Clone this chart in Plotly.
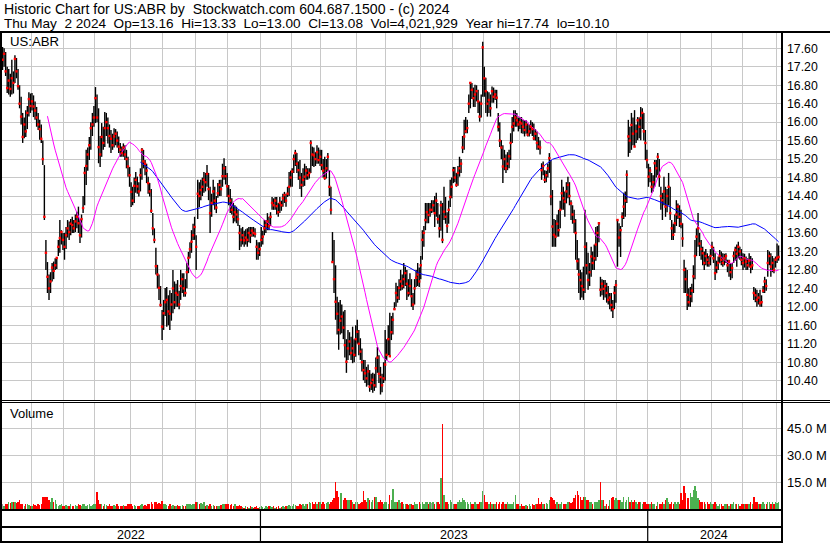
import numpy as np
import pandas as pd
import plotly.graph_objects as go

# ---------------- data ----------------
symbol = "US:ABR"
header_line1 = "Historic Chart for US:ABR by  Stockwatch.com 604.687.1500 - (c) 2024"
header_line2 = "Thu May  2 2024  Op=13.16  Hi=13.33  Lo=13.00  Cl=13.08  Vol=4,021,929  Year hi=17.74  lo=10.10"

first_day = "2022-05-04"
last_day = "2024-05-02"
market_holidays = ["2022-05-30", "2022-06-20", "2022-07-04", "2022-09-05", "2022-11-24", "2022-12-26",
                   "2023-01-02", "2023-01-16", "2023-02-20", "2023-04-07", "2023-05-29", "2023-06-19",
                   "2023-07-04", "2023-09-04", "2023-11-23", "2023-12-25", "2024-01-01", "2024-01-15",
                   "2024-02-19", "2024-03-29"]

closes = [
    17.35, 17.48, 17.10, 16.74, 16.90, 16.72, 16.95, 16.85, 17.37, 17.10, 16.78, 16.40, 16.12, 15.68, 15.95, 15.80, 16.20, 16.50, 16.35,
    16.45, 16.34, 16.25, 16.10, 15.95, 15.85, 15.64, 15.20, 13.95, 13.17, 12.65, 12.40, 12.55, 12.85, 12.78, 12.90, 13.06, 13.30, 13.49, 13.62, 13.45,
    13.30, 13.55, 13.70, 13.62, 13.80, 13.77, 13.70, 13.85, 13.95, 13.81, 13.55, 13.90, 14.14, 14.90, 15.05, 15.30, 15.50, 15.87, 15.95, 16.10,
    16.52, 16.10, 15.46, 15.30, 15.68, 15.55, 15.87, 16.00, 15.87, 15.70, 15.64, 15.50, 15.69, 15.75, 15.60, 15.47, 15.40, 15.33, 15.45, 15.30, 15.20, 15.04, 14.85,
    14.49, 14.30, 14.62, 14.75, 14.61, 14.50, 14.85, 15.40, 15.15, 15.10, 14.95, 14.68, 14.50, 14.08, 13.70, 13.45, 12.88, 12.70, 12.41, 12.04, 11.57,
    11.86, 12.10, 12.15, 11.90, 11.85, 12.05, 12.40, 12.10, 12.30, 12.26, 12.05, 12.45, 12.60, 12.40, 12.30, 12.75, 13.06, 13.25, 13.41, 13.55, 13.73,
    13.30, 14.45, 14.40, 14.53, 14.60, 14.75, 14.70, 14.88, 14.55, 14.03, 14.25, 14.50, 14.30, 14.15, 14.46, 14.64, 14.55, 14.83, 15.00, 14.83, 14.61,
    14.40, 14.30, 14.10, 13.95, 14.05, 14.00, 13.90, 13.60, 13.45, 13.55, 13.44, 13.50, 13.45, 13.60, 13.55, 13.65, 13.60, 13.58, 13.30, 13.17, 13.25,
    13.45, 13.52, 13.70, 13.77, 13.85, 13.75, 13.95, 14.25, 14.20, 14.30, 14.18, 14.05, 14.25, 14.20, 14.35, 14.42, 14.30, 14.45, 14.60, 14.80,
    14.93, 15.20, 15.33, 15.10, 14.96, 14.80, 14.64, 14.75, 14.82, 14.95, 14.85, 14.90, 15.55, 15.30, 15.28, 15.20, 15.35, 15.18, 15.25,
    15.07, 14.95, 14.79, 15.00, 15.25, 14.60, 14.10, 12.97, 12.60, 12.11, 11.85, 11.50, 11.70, 11.79, 11.55, 11.17, 10.81, 11.10, 11.25, 11.00, 11.10, 10.96, 11.30,
    11.46, 11.20, 11.03, 10.80, 10.63, 10.56, 10.45, 10.60, 10.27, 10.35, 10.42, 10.30, 10.67, 10.90, 10.55, 10.48, 10.30, 10.45, 10.75,
    10.96, 11.30, 10.93, 11.45, 11.72, 11.95, 12.30, 12.20, 12.41, 12.55, 12.45, 12.60, 12.73, 12.50, 12.30, 12.45, 12.23, 12.05, 12.40, 12.63, 12.70, 12.55,
    12.90, 13.45, 13.60, 13.88, 14.05, 13.99, 14.10, 14.10, 14.20, 14.03, 14.30, 13.90, 13.70, 14.20, 13.45, 14.06, 13.95, 13.75, 14.10, 14.38, 14.60,
    14.96, 14.80, 14.64, 14.90, 15.00, 15.10, 15.45, 15.69, 15.80, 15.87, 16.40, 16.85, 16.70, 16.52, 16.60, 16.67, 16.45, 16.12, 16.40, 17.62,
    16.95, 16.67, 16.40, 16.48, 16.30, 16.67, 16.55, 16.60, 16.53, 15.90, 15.60, 15.45, 15.04, 15.20, 15.00, 15.10, 15.26, 15.55, 15.90, 15.97, 16.10, 16.04, 15.95,
    16.00, 15.97, 15.90, 15.83, 15.95, 15.73, 15.80, 15.90, 15.85, 15.65, 15.75, 15.55, 15.47, 15.45, 14.96, 15.05, 14.75, 14.85, 15.00, 15.22,
    14.39, 13.74, 13.56, 13.52, 13.80, 13.66, 14.10, 14.46, 14.35, 14.28, 14.50, 14.64, 14.40, 14.24, 14.00, 13.85, 13.60, 12.99, 12.70, 12.58, 12.45, 12.37,
    13.30, 12.90, 12.58, 12.75, 13.09, 12.95, 13.05, 13.35, 13.60, 13.81, 12.37, 12.50, 12.39, 12.45, 12.30, 12.15, 12.20, 12.04, 11.95, 12.30, 12.47,
    13.88, 13.50, 13.66, 13.95, 14.17, 14.30, 14.86, 15.69, 15.60, 15.94, 15.75, 15.47, 15.80, 16.04, 15.90, 16.09, 16.20, 15.80, 15.55, 15.18,
    14.82, 14.95, 14.60, 14.70, 15.11, 15.00, 15.25, 14.82, 14.40, 14.31, 14.50, 14.17, 14.40, 14.60, 14.03, 13.70, 13.56, 13.81, 14.00, 14.17, 13.95,
    13.80, 13.48, 12.80, 12.60, 12.26, 12.10, 12.23, 12.35, 12.66, 13.10, 13.52, 13.70, 13.37, 13.25, 13.16, 12.95, 13.10, 13.02, 12.95, 13.10,
    13.30, 13.05, 12.73, 12.85, 12.95, 13.10, 13.02, 12.95, 13.05, 13.10, 12.90, 12.98, 12.75, 12.84, 13.10, 13.23, 13.15, 13.30, 13.20, 13.02,
    12.95, 13.05, 12.98, 12.90, 13.00, 12.87, 12.90, 12.30, 12.25, 12.15, 12.20, 12.08, 12.10, 12.35, 12.55, 12.45, 12.95, 13.10, 12.87, 12.95, 12.80, 13.02,
    13.06, 13.08,
]

highs = [
    17.63, 17.60, 17.52, 17.20, 17.15, 17.05, 17.35, 17.10, 17.45, 17.39, 17.15, 16.80, 16.55, 16.20, 16.10, 16.26, 16.35, 16.65, 16.62,
    16.63, 16.58, 16.45, 16.33, 16.20, 16.05, 15.95, 15.60, 15.07, 13.45, 12.97, 12.70, 12.75, 12.95, 12.98, 13.05, 13.08, 13.45, 13.88, 13.66, 13.60,
    13.60, 13.73, 13.88, 13.85, 13.90, 13.95, 13.88, 14.00, 14.06, 14.17, 13.90, 14.00, 14.40, 15.03, 15.40, 15.45, 15.68, 16.00, 16.20, 16.35,
    16.76, 16.60, 16.30, 15.70, 15.98, 15.90, 16.22, 16.20, 16.10, 15.95, 15.83, 15.75, 15.87, 15.85, 15.80, 15.69, 15.55, 15.47, 15.54, 15.50, 15.40, 15.25, 15.03,
    14.70, 14.60, 14.80, 14.92, 14.82, 14.70, 15.00, 15.44, 15.40, 15.18, 15.10, 14.82, 14.68, 14.55, 14.03, 13.70, 13.28, 12.91, 12.70, 12.45, 11.93,
    12.15, 12.41, 12.43, 12.25, 12.36, 12.30, 12.80, 12.55, 12.50, 12.58, 12.35, 12.80, 12.73, 12.73, 12.60, 12.95, 13.19, 13.40, 13.66, 13.80, 13.95,
    13.55, 14.75, 14.70, 14.75, 14.80, 14.92, 14.90, 15.07, 14.90, 14.60, 14.45, 14.75, 14.60, 14.40, 14.68, 14.75, 14.75, 15.10, 15.22, 15.05, 14.90,
    14.64, 14.55, 14.35, 14.25, 14.20, 14.17, 14.10, 13.77, 13.70, 13.73, 13.65, 13.68, 13.70, 13.73, 13.73, 13.73, 13.73, 13.70, 13.45, 13.40, 13.40,
    13.73, 13.65, 13.88, 13.88, 14.03, 13.95, 14.05, 14.38, 14.35, 14.38, 14.38, 14.25, 14.38, 14.30, 14.45, 14.49, 14.45, 14.60, 14.92, 14.95,
    15.00, 15.30, 15.40, 15.33, 15.15, 15.18, 14.90, 15.00, 15.10, 15.05, 15.00, 15.00, 15.61, 15.47, 15.45, 15.35, 15.50, 15.45, 15.40,
    15.40, 15.20, 15.25, 15.20, 15.33, 14.96, 14.60, 13.62, 13.45, 12.90, 12.22, 12.10, 12.15, 12.05, 11.90, 11.93, 11.30, 11.50, 11.45, 11.35, 11.57, 11.30, 11.60,
    11.72, 11.50, 11.32, 11.10, 10.85, 10.85, 10.70, 10.75, 10.63, 10.55, 10.57, 10.55, 10.90, 11.13, 10.95, 10.70, 10.55, 10.80, 11.50,
    11.30, 11.60, 11.87, 11.80, 11.87, 12.10, 12.52, 12.45, 12.60, 12.80, 12.70, 12.95, 12.87, 12.80, 12.60, 12.73, 12.60, 12.30, 12.60, 12.80, 12.95, 12.85,
    13.10, 13.66, 13.75, 14.25, 14.25, 14.25, 14.25, 14.31, 14.31, 14.40, 14.47, 14.25, 14.00, 14.30, 14.25, 14.60, 14.38, 14.05, 14.30, 14.75, 14.80,
    15.03, 15.03, 14.90, 15.05, 15.25, 15.20, 15.70, 16.05, 16.11, 16.05, 16.60, 16.87, 16.85, 16.75, 16.81, 16.80, 16.70, 16.45, 16.60, 17.74,
    17.20, 16.96, 16.67, 16.65, 16.60, 16.77, 16.75, 16.70, 16.70, 16.20, 16.00, 15.61, 15.50, 15.40, 15.30, 15.35, 15.40, 15.76, 16.11, 16.26, 16.26, 16.20, 16.10,
    16.11, 16.11, 16.05, 16.04, 16.04, 15.97, 15.95, 16.04, 16.00, 15.97, 15.85, 15.80, 15.68, 15.60, 15.11, 15.15, 14.96, 14.95, 15.10, 15.33,
    15.18, 14.53, 13.90, 13.88, 14.00, 14.10, 14.30, 14.75, 14.60, 14.50, 14.70, 14.82, 14.70, 14.31, 14.20, 14.10, 13.90, 13.45, 13.05, 12.80, 12.75, 12.87,
    14.10, 13.40, 13.17, 12.95, 13.30, 13.20, 13.35, 13.73, 13.75, 13.84, 12.65, 12.60, 12.58, 12.58, 12.52, 12.45, 12.30, 12.30, 12.15, 12.45, 12.58,
    13.88, 13.81, 13.75, 14.05, 14.47, 14.50, 14.96, 16.05, 15.90, 16.20, 16.10, 16.26, 15.95, 16.11, 16.10, 16.33, 16.30, 16.20, 15.83, 15.40,
    15.10, 15.03, 14.90, 14.85, 15.18, 15.18, 15.33, 15.20, 14.60, 14.47, 14.82, 14.60, 14.55, 14.90, 14.60, 13.88, 13.80, 14.00, 14.31, 14.24, 14.20,
    14.10, 13.81, 13.02, 12.85, 12.80, 12.40, 12.43, 12.50, 12.90, 13.45, 13.70, 14.03, 13.60, 13.45, 13.30, 13.20, 13.25, 13.16, 13.10, 13.25,
    13.41, 13.30, 13.16, 13.00, 13.09, 13.23, 13.20, 13.16, 13.15, 13.16, 13.02, 13.02, 12.95, 12.95, 13.20, 13.30, 13.35, 13.41, 13.30, 13.25,
    13.16, 13.15, 13.09, 13.05, 13.16, 13.10, 13.05, 12.43, 12.40, 12.37, 12.30, 12.37, 12.25, 12.45, 12.65, 12.60, 13.23, 13.20, 13.16, 13.10, 13.05, 13.09,
    13.37, 13.33,
]

lows = [
    17.13, 17.20, 17.00, 16.63, 16.60, 16.55, 16.60, 16.62, 16.85, 16.95, 16.70, 16.30, 15.95, 15.55, 15.65, 15.68, 15.85, 16.12, 16.20,
    16.25, 16.11, 16.05, 15.90, 15.83, 15.62, 15.55, 15.07, 13.88, 12.80, 12.30, 12.15, 12.30, 12.55, 12.60, 12.80, 12.82, 13.10, 13.17, 13.35, 13.23,
    13.02, 13.25, 13.50, 13.45, 13.55, 13.60, 13.60, 13.62, 13.70, 13.60, 13.38, 13.50, 14.03, 14.20, 14.64, 14.95, 15.18, 15.40, 15.70, 15.90,
    15.98, 16.00, 15.11, 15.03, 15.25, 15.40, 15.46, 15.70, 15.54, 15.45, 15.33, 15.40, 15.45, 15.50, 15.45, 15.33, 15.25, 15.25, 15.25, 15.18, 15.00, 14.82, 14.60,
    14.16, 14.20, 14.25, 14.47, 14.45, 14.39, 14.50, 14.75, 15.00, 14.85, 14.68, 14.45, 14.39, 14.03, 13.55, 13.38, 12.70, 12.40, 12.15, 12.00, 11.28,
    11.50, 11.80, 11.57, 11.60, 11.50, 11.70, 11.86, 11.95, 12.00, 12.00, 11.95, 12.15, 12.30, 12.22, 12.22, 12.40, 12.73, 13.05, 13.17, 13.45, 13.45,
    12.80, 13.90, 14.16, 14.31, 14.40, 14.47, 14.50, 14.60, 14.31, 13.60, 13.95, 14.20, 14.10, 14.03, 14.36, 14.40, 14.40, 14.60, 14.75, 14.65, 14.38,
    14.20, 14.03, 14.00, 13.81, 13.85, 13.81, 13.75, 13.23, 13.30, 13.35, 13.30, 13.35, 13.30, 13.40, 13.38, 13.52, 13.52, 13.50, 13.02, 13.02, 13.10,
    13.30, 13.35, 13.55, 13.60, 13.66, 13.66, 13.75, 14.10, 14.10, 14.10, 14.00, 13.95, 14.03, 14.08, 14.17, 14.25, 14.17, 14.38, 14.40, 14.60,
    14.60, 14.90, 15.05, 14.90, 14.75, 14.55, 14.38, 14.60, 14.62, 14.75, 14.75, 14.78, 14.90, 15.05, 15.03, 15.05, 15.10, 15.10, 15.05,
    14.96, 14.80, 14.75, 14.78, 14.95, 14.40, 14.00, 12.95, 12.30, 11.72, 11.40, 11.07, 11.40, 11.43, 11.30, 10.90, 10.57, 10.85, 10.95, 10.85, 10.78, 10.80, 10.92,
    11.20, 10.95, 10.85, 10.60, 10.41, 10.35, 10.27, 10.30, 10.16, 10.20, 10.14, 10.18, 10.25, 10.57, 10.35, 10.10, 10.15, 10.35, 10.40,
    10.85, 10.95, 10.92, 11.28, 11.40, 11.93, 12.00, 12.09, 12.15, 12.35, 12.37, 12.40, 12.45, 12.15, 12.22, 12.25, 12.00, 11.93, 12.05, 12.43, 12.45, 12.43,
    12.60, 13.02, 13.30, 13.66, 13.81, 13.81, 13.95, 14.03, 14.05, 13.73, 13.95, 13.80, 13.50, 13.65, 13.38, 13.88, 13.80, 13.60, 13.80, 14.16, 14.35,
    14.68, 14.70, 14.60, 14.62, 14.82, 14.90, 15.33, 15.40, 15.76, 15.76, 16.20, 16.30, 16.50, 16.33, 16.33, 16.45, 16.20, 16.01, 16.10, 16.55,
    16.55, 16.20, 16.12, 16.20, 16.12, 16.42, 16.42, 16.48, 16.30, 15.80, 15.46, 15.20, 14.68, 14.96, 14.90, 14.96, 15.00, 15.18, 15.55, 15.80, 15.90, 15.90, 15.80,
    15.85, 15.76, 15.75, 15.69, 15.75, 15.69, 15.69, 15.75, 15.70, 15.61, 15.60, 15.40, 15.40, 15.30, 14.75, 14.85, 14.68, 14.70, 14.80, 14.90,
    14.20, 13.30, 13.30, 13.30, 13.52, 13.52, 13.70, 14.10, 14.10, 13.95, 14.24, 14.35, 14.20, 13.88, 13.80, 13.60, 13.02, 12.80, 12.30, 12.15, 12.20, 12.15,
    12.30, 12.70, 12.37, 12.45, 12.65, 12.80, 12.80, 13.00, 13.08, 13.40, 12.22, 12.25, 12.15, 12.20, 12.09, 12.05, 11.95, 11.90, 11.76, 11.95, 12.09,
    12.87, 13.30, 13.08, 13.73, 13.90, 13.95, 14.25, 15.25, 15.33, 15.40, 15.50, 15.47, 15.55, 15.61, 15.65, 15.61, 15.85, 15.60, 15.18, 15.00,
    14.60, 14.70, 14.47, 14.50, 14.60, 14.80, 14.85, 14.60, 14.10, 13.88, 14.20, 13.95, 14.05, 14.20, 13.88, 13.45, 13.45, 13.60, 13.75, 13.90, 13.73,
    13.70, 13.30, 12.30, 12.30, 11.93, 12.00, 12.00, 12.10, 12.30, 12.60, 13.10, 13.30, 13.10, 13.02, 12.90, 12.80, 12.90, 12.87, 12.87, 12.90,
    13.10, 12.95, 12.58, 12.73, 12.80, 12.95, 12.90, 12.87, 12.90, 12.95, 12.75, 12.65, 12.58, 12.62, 12.95, 13.00, 12.87, 13.05, 13.02, 12.90,
    12.80, 12.85, 12.80, 12.80, 12.85, 12.73, 12.80, 12.15, 12.10, 12.00, 12.05, 12.00, 12.00, 12.30, 12.30, 12.35, 12.65, 12.90, 12.65, 12.75, 12.73, 12.85,
    12.95, 13.00,
]

volumes_m = [
    2.8, 2.2, 3.3, 2.8, 3.9, 3.6, 4.2, 3.9, 4.4, 3.6, 3.9, 5.0, 3.3, 2.8, 2.2, 2.8, 3.3, 2.5, 2.2,
    2.2, 2.8, 2.5, 2.2, 2.8, 2.5, 3.3, 6.7, 7.2, 7.2, 6.9, 5.0, 4.4, 6.1, 3.9, 5.5, 2.8, 2.2, 2.5, 2.8, 2.2,
    2.2, 2.5, 1.7, 2.2, 2.8, 2.2, 1.9, 2.5, 2.2, 2.8, 2.5, 2.2, 3.3, 2.8, 2.2, 2.5, 2.8, 2.2, 2.5, 3.3,
    3.3, 9.7, 5.0, 3.3, 2.8, 2.2, 3.3, 2.5, 2.2, 2.8, 2.2, 1.9, 2.5, 2.2, 2.8, 2.2, 1.7, 2.2, 2.5, 1.9, 2.2, 2.8, 3.3,
    2.8, 2.2, 2.5, 1.9, 2.2, 1.7, 2.5, 3.3, 2.2, 2.5, 2.2, 2.8, 3.3, 3.9, 3.3, 4.4, 3.9, 2.8, 3.6, 3.3, 4.7,
    3.3, 2.8, 2.5, 2.2, 2.8, 2.2, 2.5, 1.9, 2.2, 2.5, 1.9, 2.2, 2.5, 1.9, 2.2, 2.8, 3.3, 2.8, 2.5, 2.8, 3.3,
    3.9, 3.9, 3.3, 3.6, 2.8, 3.9, 2.2, 2.5, 1.9, 2.8, 2.2, 2.5, 1.9, 2.2, 1.7, 2.2, 2.5, 2.8, 3.3, 3.3, 2.8,
    3.3, 2.5, 2.8, 2.2, 2.8, 1.9, 2.2, 2.5, 1.7, 1.4, 1.1, 1.7, 1.4, 1.1, 1.7, 1.4, 1.1, 1.4, 1.7, 1.1, 1.4,
    1.7, 1.4, 1.1, 1.7, 1.4, 1.7, 2.2, 1.4, 1.7, 1.1, 1.4, 1.7, 1.1, 1.4, 1.7, 1.4, 1.9, 2.2, 2.5, 2.2,
    2.2, 2.8, 2.5, 1.9, 2.2, 2.8, 2.5, 3.3, 2.2, 2.8, 3.3, 3.9, 3.6, 3.9, 3.3, 4.4, 3.3, 3.9, 4.2,
    3.3, 3.9, 3.3, 3.6, 3.9, 3.3, 4.4, 5.0, 6.1, 15.5, 10.5, 7.2, 8.9, 8.9, 5.5, 6.1, 5.0, 5.5, 5.5, 5.0, 3.9, 3.3, 3.9,
    3.9, 3.3, 3.6, 4.4, 10.0, 5.0, 4.4, 6.1, 5.5, 3.9, 5.0, 6.7, 7.2, 4.4, 3.9, 5.0, 4.4, 3.3, 3.9,
    3.9, 3.3, 7.8, 5.0, 11.1, 3.9, 4.4, 3.9, 5.0, 3.6, 3.9, 3.3, 2.8, 3.3, 2.5, 2.8, 3.3, 2.5, 3.9, 2.8, 3.3, 3.9,
    3.3, 4.4, 2.8, 3.9, 4.4, 3.3, 3.9, 3.6, 4.4, 3.3, 3.9, 4.4, 3.3, 17.2, 47.4, 7.8, 3.9, 4.4, 3.3, 5.0, 3.9,
    3.3, 2.8, 3.3, 3.9, 5.5, 4.4, 6.1, 5.0, 3.9, 4.4, 3.3, 3.9, 2.8, 3.3, 3.9, 2.8, 3.3, 3.9, 4.4, 10.5,
    7.8, 4.4, 3.9, 3.3, 4.4, 2.8, 3.3, 2.8, 3.9, 3.3, 3.9, 3.3, 3.9, 2.8, 3.3, 3.9, 2.8, 3.3, 2.8, 3.9, 8.0, 3.3, 2.8,
    2.2, 2.8, 2.2, 1.7, 2.5, 2.2, 3.3, 2.2, 2.8, 2.5, 3.3, 2.8, 6.1, 2.8, 3.9, 3.3, 2.8, 3.6, 3.3, 5.0,
    7.2, 6.1, 5.0, 3.3, 3.9, 2.8, 3.3, 3.9, 2.8, 3.3, 2.8, 3.9, 4.4, 3.6, 4.4, 6.1, 7.8, 10.5, 8.0, 6.7, 5.5, 6.7,
    7.2, 5.0, 5.5, 3.9, 3.9, 3.3, 4.4, 3.9, 4.4, 5.0, 15.0, 5.0, 5.0, 2.2, 2.8, 2.2, 5.5, 6.1, 6.7, 5.5, 6.1,
    5.5, 5.0, 5.3, 4.4, 6.7, 3.9, 5.5, 6.7, 4.4, 5.0, 3.9, 5.5, 4.4, 3.3, 4.4, 3.9, 3.3, 4.4, 3.9, 3.3,
    3.3, 2.8, 3.9, 2.8, 3.3, 2.2, 3.9, 3.3, 2.8, 3.9, 2.8, 5.5, 6.1, 4.4, 3.3, 3.9, 3.3, 3.9, 3.3, 3.9, 3.3,
    8.9, 5.5, 13.3, 8.9, 6.1, 6.1, 9.4, 7.2, 11.0, 13.3, 10.5, 6.1, 5.0, 4.4, 4.4, 3.9, 3.3, 3.9, 3.3, 3.9,
    2.8, 3.3, 3.9, 2.8, 2.2, 3.3, 2.8, 2.2, 2.8, 3.3, 2.8, 2.2, 3.3, 2.8, 3.9, 3.3, 2.8, 3.3, 2.2, 3.3,
    2.8, 3.3, 3.3, 2.8, 3.3, 3.9, 3.3, 6.7, 4.4, 3.9, 3.3, 2.8, 3.3, 3.9, 2.8, 3.3, 4.4, 3.9, 3.3, 3.9, 3.3, 3.9,
    3.6, 4.02,
]

price_ticks = [10.40, 10.80, 11.20, 11.60, 12.00, 12.40, 12.80, 13.20, 13.60, 14.00,
               14.40, 14.80, 15.20, 15.60, 16.00, 16.40, 16.80, 17.20, 17.60]
volume_ticks = [15.0, 30.0, 45.0]
volume_tick_labels = ["15.0 M", "30.0 M", "45.0 M"]
ma_windows = [30, 90]

# ---------------- build ----------------
n = len(closes)
dates = pd.bdate_range(first_day, last_day)
dates = dates[~dates.isin(pd.to_datetime(market_holidays))]
if len(dates) != n:
    print("WARNING: dates", len(dates), "data", n)
dates = dates[:n]
idx = np.arange(n)

W, H = 830, 543
FONT = "Liberation Sans, Arial, Helvetica, sans-serif"
GRID = "#c8c8c8"


def px(x):
    return x / W


def py(y):
    return 1 - y / H


month_bounds = [k - 0.5 for k in range(1, n) if dates[k].month != dates[k - 1].month]
year_bounds = [k - 0.5 for k in range(1, n) if dates[k].year != dates[k - 1].year]
x_range = [-0.35, n + 0.55]

# high-low bars
bx, by = [], []
for i in range(n):
    bx += [i, i, None]
    by += [lows[i], highs[i], None]

close_s = pd.Series(closes)
ma_fast = close_s.rolling(ma_windows[0]).mean()
ma_slow = close_s.rolling(ma_windows[1]).mean()

vol_colors = []
for i in range(n):
    if i == 0 or closes[i] == closes[i - 1]:
        vol_colors.append("#a0a0a0")
    elif closes[i] > closes[i - 1]:
        vol_colors.append("#4caf50")
    else:
        vol_colors.append("#ff0000")

fig = go.Figure()
fig.add_trace(go.Scatter(x=bx, y=by, mode="lines", line=dict(color="black", width=1.4),
                         hoverinfo="skip", xaxis="x", yaxis="y"))
fig.add_trace(go.Scatter(x=idx, y=ma_slow, mode="lines", line=dict(color="#0000ff", width=1),
                         hoverinfo="skip", xaxis="x", yaxis="y"))
fig.add_trace(go.Scatter(x=idx, y=ma_fast, mode="lines", line=dict(color="#ff00ff", width=1),
                         hoverinfo="skip", xaxis="x", yaxis="y"))
fig.add_trace(go.Scatter(x=idx, y=closes, mode="markers",
                         marker=dict(symbol="square", size=2.4, color="#ff0000", line=dict(width=0)),
                         hoverinfo="skip", xaxis="x", yaxis="y"))
fig.add_trace(go.Bar(x=idx, y=volumes_m, marker=dict(color=vol_colors, line=dict(width=0)),
                     width=0.9, hoverinfo="skip", xaxis="x2", yaxis="y2"))

vol_top, vol_bot = 403.0, 509.5
vol_scale = (vol_bot - 428.3) / 45.0
vol_max = (vol_bot - vol_top) / vol_scale

axis_common = dict(range=x_range, tickvals=month_bounds, showticklabels=False, ticks="",
                   showgrid=True, gridcolor=GRID, gridwidth=1, zeroline=False, showline=False,
                   domain=[px(2), px(781)], fixedrange=True)

fig.update_layout(
    width=W, height=H, autosize=False,
    margin=dict(l=0, r=0, t=0, b=0, pad=0),
    paper_bgcolor="white", plot_bgcolor="white",
    showlegend=False, hovermode=False, bargap=0,
    font=dict(family=FONT, color="black", size=13),
    xaxis=dict(anchor="y", **axis_common),
    xaxis2=dict(anchor="y2", matches="x", **axis_common),
    yaxis=dict(domain=[py(400), py(33)], range=[9.982, 17.931], side="right", anchor="x",
               tickvals=price_ticks, ticktext=[f"{v:.2f}" for v in price_ticks],
               showgrid=True, gridcolor=GRID, gridwidth=1, zeroline=False, showline=False,
               ticks="", ticklabelstandoff=5, tickfont=dict(size=12.3, family=FONT, color="black"),
               fixedrange=True),
    yaxis2=dict(domain=[py(vol_bot), py(vol_top)], range=[0, vol_max], side="right", anchor="x2",
                tickvals=volume_ticks, ticktext=volume_tick_labels,
                showgrid=True, gridcolor=GRID, gridwidth=1, zeroline=False, showline=False,
                ticks="", ticklabelstandoff=5, tickfont=dict(size=13, family=FONT, color="black"),
                fixedrange=True),
)

shapes = []


def hline(y, x0, x1, w):
    shapes.append(dict(type="line", xref="paper", yref="paper", x0=px(x0), x1=px(x1),
                       y0=py(y), y1=py(y), line=dict(color="black", width=w)))


def vline(x, y0, y1, w):
    shapes.append(dict(type="line", xref="paper", yref="paper", x0=px(x), x1=px(x),
                       y0=py(y0), y1=py(y1), line=dict(color="black", width=w)))


hline(32, 0, 830, 2)
hline(400.5, 0, 830, 1)
hline(402.5, 0, 830, 1)
hline(510, 0, 783, 2)
hline(527, 0, 783, 2)
hline(542, 0, 783, 2)
vline(1, 31, 543, 2)
vline(782, 31, 543, 2)
for b in year_bounds:
    shapes.append(dict(type="line", xref="x", yref="paper", x0=b, x1=b, y0=py(510), y1=py(542),
                       line=dict(color="black", width=1.2)))
fig.update_layout(shapes=shapes)

annotations = []


def label(text, x, y, size, anchor="left", xref="paper"):
    annotations.append(dict(text=text.replace("  ", "\u00a0\u00a0"), x=x if xref != "paper" else px(x),
                            y=py(y), xref=xref, yref="paper", xanchor=anchor, yanchor="middle",
                            showarrow=False, font=dict(family=FONT, size=size, color="black")))


label(header_line1, 2, 8.5, 14.1)
label(header_line2, 2, 23, 13.6)
label(symbol, 8, 41, 13.2)
label("Volume", 8, 413.5, 13)

segs = [x_range[0]] + year_bounds + [x_range[1]]
for a, b in zip(segs[:-1], segs[1:]):
    mid = (a + b) / 2
    yr = dates[int(min(max(round(mid), 0), n - 1))].year
    label(str(yr), mid, 534.5, 12.5, anchor="center", xref="x")
fig.update_layout(annotations=annotations)

fig.write_html("out.html", config={"displayModeBar": False, "staticPlot": True},
               post_script="document.body.style.margin='0';document.body.style.padding='0';"
                           "document.documentElement.style.overflow='hidden';")
